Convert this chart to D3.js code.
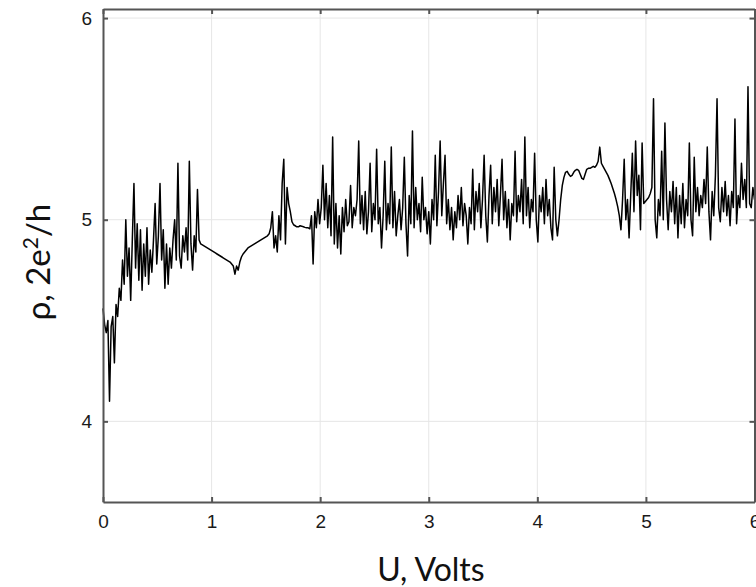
<!DOCTYPE html>
<html>
<head>
<meta charset="utf-8">
<script src="https://cdn.jsdelivr.net/npm/d3@7"></script>
<style>
  body { margin: 0; background: #fff; }
  svg { display: block; }
</style>
</head>
<body>
<svg id="chart" width="756" height="587"></svg>
<script>

// voltage sweep is uniform, one rho sample every STEP volts
const STEP = 0.015;

// 0 .. 0.9 V, noisy rise
const rhoStart = [
  4.56, 4.48, 4.44, 4.50, 4.10, 4.47, 4.52, 4.29, 4.58, 4.52,
  4.66, 4.60, 4.80, 4.68, 5.00, 4.72, 4.86, 4.60, 4.90, 5.18,
  4.76, 4.98, 4.70, 4.95, 4.65, 4.88, 4.72, 4.96, 4.68, 4.85,
  4.74, 4.90, 5.08, 4.78, 4.92, 5.18, 4.80, 4.95, 4.66, 4.88,
  4.68, 4.86, 4.76, 4.90, 5.00, 4.80, 5.28, 4.82, 4.76, 4.92,
  4.84, 4.96, 4.80, 5.29, 4.88, 4.75, 4.92, 4.84, 5.15, 4.90
];

// 0.9 .. 1.92 V, smooth dip, short noisy burst near 1.6 V, smooth again
const rhoDip = [
  4.88, 4.875, 4.870, 4.865, 4.860, 4.855, 4.850, 4.845, 4.840, 4.835,
  4.830, 4.825, 4.820, 4.815, 4.810, 4.805, 4.800, 4.795, 4.79, 4.78,
  4.77, 4.73, 4.77, 4.75, 4.79, 4.815, 4.83, 4.84, 4.85, 4.86,
  4.865, 4.87, 4.875, 4.88, 4.885, 4.89, 4.895, 4.90, 4.905, 4.91,
  4.915, 4.92, 4.93, 4.96, 5.04, 4.86, 4.92, 4.84, 5.02, 4.90,
  5.18, 5.30, 4.88, 5.16, 5.08, 5.04, 4.99, 4.975, 4.97, 4.965,
  4.965, 4.97, 4.968, 4.965, 4.962, 4.96, 4.96, 4.955
];

// 1.92 .. 4.19 V, dense fluctuations
const rhoMid = [
  5.02, 4.78, 5.04, 4.96, 5.10, 4.98, 5.06, 5.27, 5.00, 5.18,
  4.96, 5.12, 4.92, 5.41, 4.88, 5.08, 4.86, 5.02, 4.83, 5.06,
  4.94, 5.10, 4.97, 4.99, 5.17, 4.96, 5.06, 5.02, 5.10, 5.39,
  4.98, 5.12, 4.95, 5.14, 4.93, 5.04, 5.28, 4.94, 5.08, 5.00,
  5.35, 4.98, 5.06, 4.86, 5.02, 5.29, 4.95, 5.08, 4.98, 5.36,
  4.96, 5.14, 4.92, 5.02, 5.10, 4.95, 5.06, 5.31, 4.98, 4.82,
  5.12, 4.98, 5.44, 4.96, 5.16, 5.00, 5.08, 4.94, 5.21, 5.00,
  5.06, 4.93, 5.04, 4.88, 5.10, 5.00, 5.32, 4.97, 5.14, 5.39,
  5.02, 5.18, 5.32, 4.98, 5.10, 4.95, 5.06, 4.90, 5.04, 4.96,
  5.12, 5.00, 5.16, 4.97, 5.08, 5.02, 4.88, 5.06, 4.98, 5.25,
  4.95, 5.14, 5.04, 5.18, 4.96, 5.10, 5.32, 5.02, 4.89, 5.12,
  5.27, 4.98, 5.16, 5.04, 5.20, 4.97, 5.12, 5.30, 5.00, 5.14,
  4.96, 5.10, 4.90, 5.08, 5.02, 5.34, 4.99, 5.12, 5.04, 5.20,
  4.98, 5.41, 5.02, 5.16, 4.96, 5.10, 5.04, 5.33, 5.00, 4.89,
  5.12, 5.04, 5.16, 4.98, 5.20, 5.02, 5.10, 4.96, 4.90, 5.26,
  5.00, 4.92
];

// 4.2 .. 4.8 V, smooth plateau
const rhoPlateau = [
  5.00, 5.10, 5.17, 5.21, 5.235, 5.24, 5.225, 5.215, 5.22, 5.235,
  5.245, 5.25, 5.245, 5.225, 5.205, 5.20, 5.225, 5.25, 5.255, 5.255,
  5.26, 5.265, 5.26, 5.27, 5.29, 5.36, 5.28, 5.265, 5.25, 5.235,
  5.22, 5.20, 5.18, 5.155, 5.13, 5.10, 5.065, 5.02, 4.95, 5.10
];

// 4.8 .. 6 V, fluctuations with the largest spikes
const rhoEnd = [
  5.30, 5.00, 5.10, 4.91, 5.12, 5.33, 5.04, 5.39, 5.12, 5.22,
  4.95, 5.38, 5.08, 5.09, 5.10, 5.11, 5.13, 5.16, 5.60, 5.00,
  4.91, 5.10, 5.02, 5.34, 5.00, 5.48, 5.10, 4.95, 5.14, 5.04,
  5.19, 4.98, 5.16, 4.91, 5.12, 4.98, 5.18, 4.96, 5.10, 5.02,
  5.38, 5.00, 4.92, 5.31, 5.04, 5.16, 5.02, 5.12, 5.06, 5.20,
  5.08, 5.36, 5.04, 4.90, 5.14, 5.02, 5.22, 5.60, 5.06, 4.99,
  5.16, 5.04, 5.19, 5.02, 5.12, 4.97, 5.14, 5.06, 5.50, 4.98,
  5.12, 5.06, 5.28, 5.10, 5.20, 5.06, 5.66, 5.08, 5.06, 5.16,
  5.10
];

const xTicks = [0, 1, 2, 3, 4, 5, 6];
const yTicks = [4, 5, 6];

const rho = [].concat(rhoStart, rhoDip, rhoMid, rhoPlateau, rhoEnd);
const data = rho.map((r, i) => ({u: i * STEP, r: r}));

const svg = d3.select("#chart");

const box = {left: 103, right: 754.5, top: 9, bottom: 502};

const x = d3.scaleLinear().domain([0, 6]).range([box.left, box.right]);
const y = d3.scaleLinear().domain([3.6, 6.045]).range([box.bottom, box.top]);

// grid
svg.append("g")
  .selectAll("line")
  .data(xTicks.slice(1, -1))
  .join("line")
  .attr("x1", d => x(d)).attr("x2", d => x(d))
  .attr("y1", box.top).attr("y2", box.bottom)
  .attr("stroke", "#e6e6e6").attr("stroke-width", 1);

svg.append("g")
  .selectAll("line")
  .data(yTicks)
  .join("line")
  .attr("x1", box.left).attr("x2", box.right)
  .attr("y1", d => y(d)).attr("y2", d => y(d))
  .attr("stroke", "#e6e6e6").attr("stroke-width", 1);

// the curve
const line = d3.line().x(d => x(d.u)).y(d => y(d.r));

svg.append("path")
  .datum(data)
  .attr("d", line)
  .attr("fill", "none")
  .attr("stroke", "#000")
  .attr("stroke-width", 1.5)
  .attr("stroke-linejoin", "round");

// box axes, ticks pointing inward
const axisColor = "#555";
const fmt = d3.format("d");

svg.append("g")
  .attr("transform", `translate(0,${box.bottom})`)
  .call(d3.axisBottom(x).tickValues(xTicks).tickFormat(fmt).tickSizeInner(-5).tickSizeOuter(0).tickPadding(13))
  .call(g => g.select(".domain").attr("stroke", axisColor).attr("stroke-width", 2));

svg.append("g")
  .attr("transform", `translate(0,${box.top})`)
  .call(d3.axisTop(x).tickValues(xTicks).tickSizeInner(-5).tickSizeOuter(0).tickFormat(""))
  .call(g => g.select(".domain").attr("stroke", axisColor).attr("stroke-width", 2));

svg.append("g")
  .attr("transform", `translate(${box.left},0)`)
  .call(d3.axisLeft(y).tickValues(yTicks).tickFormat(fmt).tickSizeInner(-5).tickSizeOuter(0).tickPadding(11))
  .call(g => g.select(".domain").attr("stroke", axisColor).attr("stroke-width", 2));

svg.append("g")
  .attr("transform", `translate(${box.right},0)`)
  .call(d3.axisRight(y).tickValues(yTicks).tickSizeInner(-5).tickSizeOuter(0).tickFormat(""))
  .call(g => g.select(".domain").attr("stroke", axisColor).attr("stroke-width", 2));

svg.selectAll(".tick line").attr("stroke", axisColor).attr("stroke-width", 2);
svg.selectAll(".tick text")
  .attr("fill", "#1a1a1a")
  .style("font-family", "Liberation Sans, Arial, sans-serif")
  .style("font-size", "19px");

// titles
svg.append("text")
  .attr("x", 431).attr("y", 581)
  .attr("text-anchor", "middle")
  .style("font-family", "Lato, sans-serif")
  .style("font-size", "32px")
  .attr("fill", "#111")
  .text("U, Volts");

const yt = svg.append("text")
  .attr("transform", "translate(50,262) rotate(-90)")
  .attr("text-anchor", "middle")
  .style("font-family", "Lato, sans-serif")
  .style("font-size", "33px")
  .attr("fill", "#111");
yt.append("tspan").text("ρ, 2e");
yt.append("tspan").attr("dy", -12).style("font-size", "21px").text("2");
yt.append("tspan").attr("dy", 12).text("/h");

</script>
</body>
</html>
